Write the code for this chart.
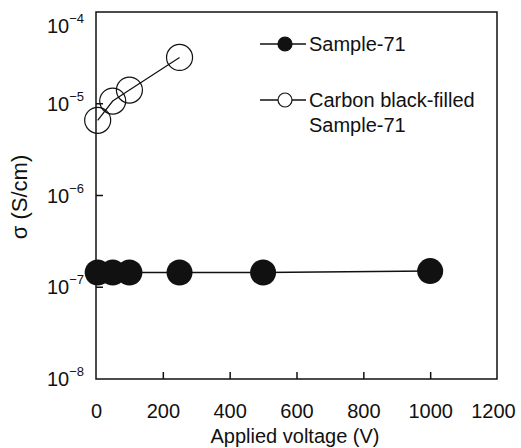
<!DOCTYPE html>
<html>
<head>
<meta charset="utf-8">
<script src="https://cdn.jsdelivr.net/npm/d3@7"></script>
<style>
  body { margin: 0; background: #fff; }
  svg { font-family: 'Liberation Sans', Arial, sans-serif; }
</style>
</head>
<body>
<div id="chart"></div>
<script>
const voltages = [5, 50, 100, 250, 500, 1000]
const sample71 = [1.45e-7, 1.45e-7, 1.45e-7, 1.45e-7, 1.45e-7, 1.5e-7]
const carbonVoltages = [5, 50, 100, 250]
const carbonFilled = [6.6e-6, 1.07e-5, 1.41e-5, 3.2e-5]
const xTicks = [0, 200, 400, 600, 800, 1000, 1200]
const yTicks = [-8, -7, -6, -5, -4]

const width = 521
const height = 448
const marginLeft = 96
const marginRight = 24
const marginTop = 12
const marginBottom = 69

const svg = d3
  .select('#chart')
  .append('svg')
  .attr('width', width)
  .attr('height', height)

const xScale = d3
  .scaleLinear()
  .domain([0, 1200])
  .range([marginLeft, width - marginRight])
const yScale = d3
  .scaleLog()
  .domain([1e-8, 1e-4])
  .range([height - marginBottom, marginTop])

// frame
svg
  .append('rect')
  .attr('x', xScale(0))
  .attr('y', yScale(1e-4))
  .attr('width', xScale(1200) - xScale(0))
  .attr('height', yScale(1e-8) - yScale(1e-4))
  .attr('fill', 'none')
  .attr('stroke', '#111')
  .attr('stroke-width', 1.5)

// x axis ticks (inward) and labels
const xAxis = svg
  .append('g')
  .attr('transform', `translate(0,${yScale(1e-8)})`)
  .call(
    d3
      .axisBottom(xScale)
      .tickValues(xTicks)
      .tickFormat(d3.format('d'))
      .tickSizeInner(-7)
      .tickSizeOuter(0)
      .tickPadding(25),
  )
xAxis.select('.domain').remove()
xAxis.selectAll('line').attr('stroke', '#111').attr('stroke-width', 1.5)
xAxis
  .selectAll('text')
  .attr('fill', '#111')
  .attr('font-size', 20)
  .attr('font-family', null)
xAxis
  .selectAll('.tick')
  .filter(d => d === 0 || d === 1200)
  .select('line')
  .remove()
// keep the last label inside the page
xAxis
  .selectAll('.tick')
  .filter(d => d === 1200)
  .select('text')
  .attr('dx', -4)

// y axis ticks
svg
  .append('g')
  .selectAll('line')
  .data(yTicks.filter(e => e > -8 && e < -4))
  .join('line')
  .attr('x1', xScale(0))
  .attr('x2', xScale(0) + 7)
  .attr('y1', e => yScale(10 ** e))
  .attr('y2', e => yScale(10 ** e))
  .attr('stroke', '#111')
  .attr('stroke-width', 1.5)

const yLabels = svg
  .append('g')
  .selectAll('text')
  .data(yTicks)
  .join('text')
  .attr('x', 84)
  .attr('y', e => Math.max(yScale(10 ** e) + 7, 33))
  .attr('text-anchor', 'end')
  .attr('font-size', 20)
  .attr('fill', '#111')
  .text('10')
yLabels
  .append('tspan')
  .attr('font-size', 13)
  .attr('dy', -10)
  .text(e => `\u2212${-e}`)

// axis titles
svg
  .append('text')
  .attr('x', 295)
  .attr('y', 443)
  .attr('text-anchor', 'middle')
  .attr('font-size', 20)
  .attr('fill', '#111')
  .text('Applied voltage (V)')

svg
  .append('text')
  .attr('transform', 'translate(27,197) rotate(-90)')
  .attr('text-anchor', 'middle')
  .attr('font-size', 22)
  .attr('fill', '#111')
  .text('σ  (S/cm)')

const line = d3
  .line()
  .x(d => xScale(d[0]))
  .y(d => yScale(d[1]))

const sampleData = d3.zip(voltages, sample71)
const carbonData = d3.zip(carbonVoltages, carbonFilled)

svg
  .append('path')
  .attr('d', line(sampleData))
  .attr('fill', 'none')
  .attr('stroke', '#111')
  .attr('stroke-width', 1.5)

svg
  .append('path')
  .attr('d', line(carbonData))
  .attr('fill', 'none')
  .attr('stroke', '#111')
  .attr('stroke-width', 1.2)

svg
  .append('g')
  .selectAll('circle')
  .data(sampleData)
  .join('circle')
  .attr('cx', d => xScale(d[0]))
  .attr('cy', d => yScale(d[1]))
  .attr('r', 13)
  .attr('fill', '#111')

svg
  .append('g')
  .selectAll('circle')
  .data(carbonData)
  .join('circle')
  .attr('cx', d => xScale(d[0]))
  .attr('cy', d => yScale(d[1]))
  .attr('r', 13)
  .attr('fill', 'none')
  .attr('stroke', '#111')
  .attr('stroke-width', 1.2)

// legend
const legendItems = [
  { lines: ['Sample-71'], filled: true, y: 44 },
  { lines: ['Carbon black-filled', 'Sample-71'], filled: false, y: 100 },
]
const legend = svg
  .append('g')
  .selectAll('g')
  .data(legendItems)
  .join('g')
  .attr('transform', d => `translate(0,${d.y})`)
legend
  .append('line')
  .attr('x1', 260)
  .attr('x2', 306)
  .attr('stroke', '#111')
  .attr('stroke-width', 1.5)
legend
  .append('circle')
  .attr('cx', 285)
  .attr('r', 7)
  .attr('fill', d => (d.filled ? '#111' : '#fff'))
  .attr('stroke', '#111')
  .attr('stroke-width', 1.2)
legend
  .append('text')
  .attr('font-size', 20)
  .attr('fill', '#111')
  .selectAll('tspan')
  .data(d => d.lines)
  .join('tspan')
  .attr('x', 309)
  .attr('y', (d, i) => 7 + i * 25)
  .text(d => d)
</script>
</body>
</html>
